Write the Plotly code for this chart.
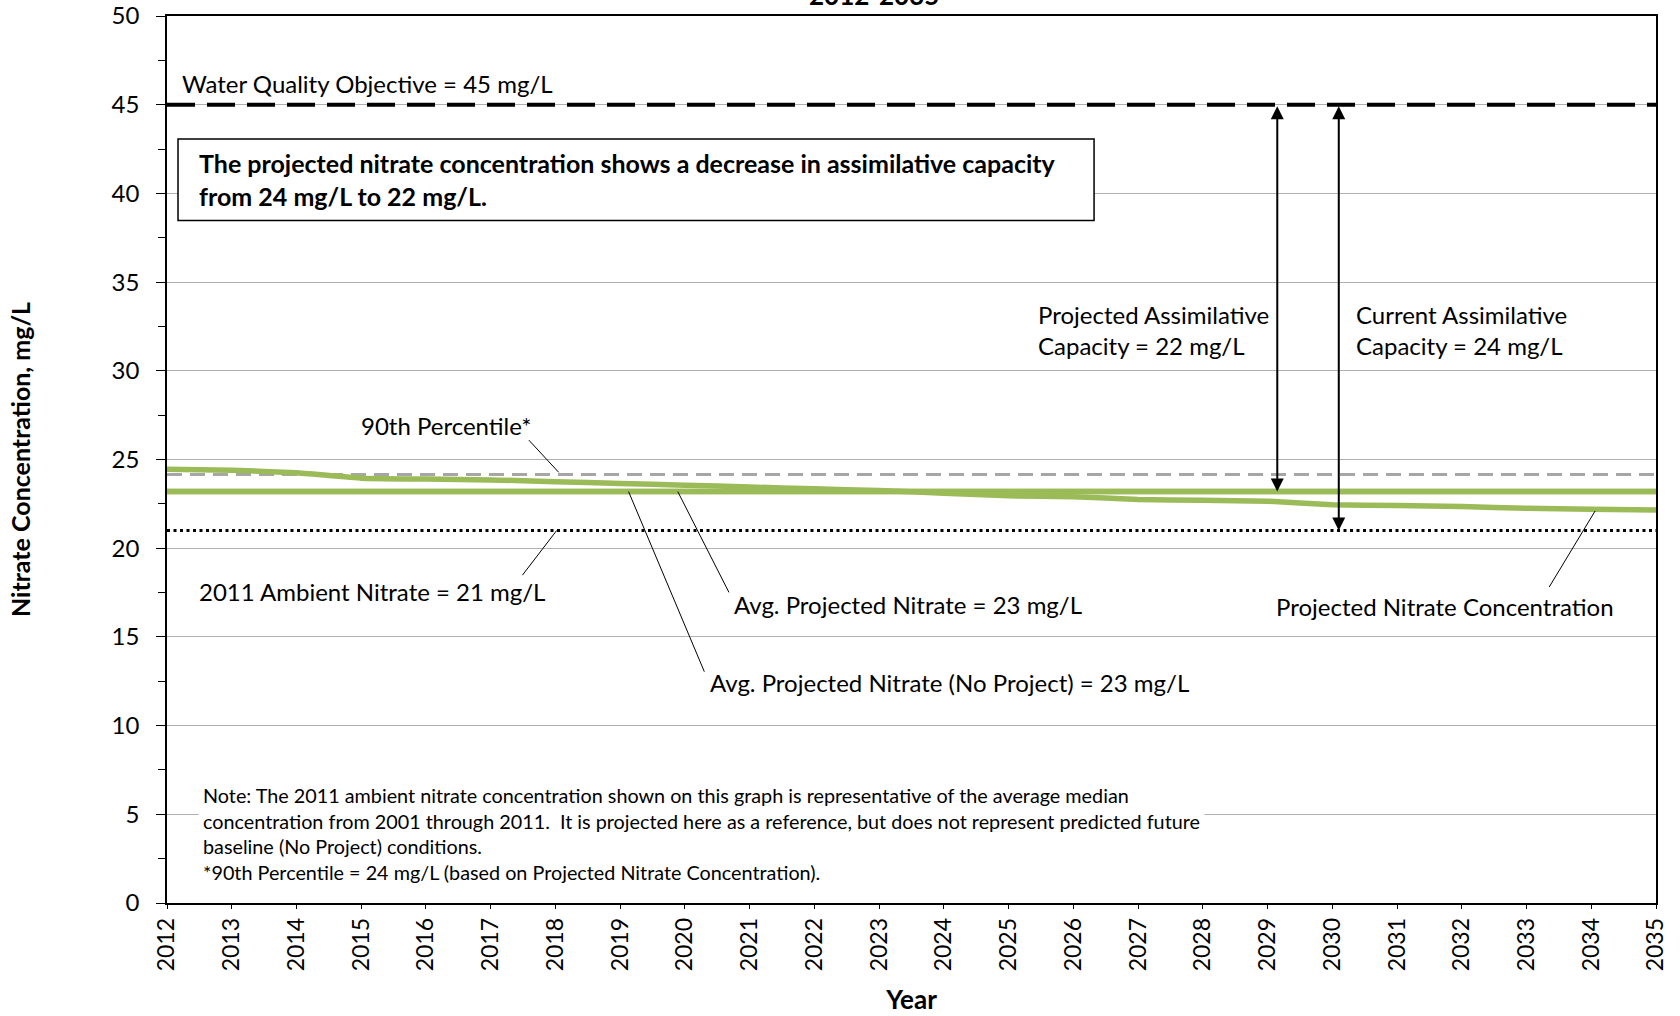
import plotly.graph_objects as go

years = list(range(2012, 2036))
projected = [24.45, 24.4, 24.25, 23.95, 23.9, 23.85, 23.75, 23.65, 23.55, 23.45, 23.35, 23.25,
             23.1, 22.95, 22.9, 22.75, 22.7, 22.65, 22.45, 22.4, 22.35, 22.25, 22.2, 22.15]
avg_projected = [23.2] * len(years)
avg_no_project = [23.2] * len(years)
p90 = [24.15] * len(years)
ambient = [21.0] * len(years)
wqo = [45.0] * len(years)

FONT = "Lato"
GREEN = "#9BBB59"

fig = go.Figure()
fig.add_trace(go.Scatter(x=years, y=wqo, mode="lines",
                         line=dict(color="black", width=4, dash="28px,12px")))
fig.add_trace(go.Scatter(x=years, y=ambient, mode="lines",
                         line=dict(color="black", width=3, dash="3px,3.5px")))
fig.add_trace(go.Scatter(x=years, y=p90, mode="lines",
                         line=dict(color="#A6A6A6", width=3, dash="15px,8px")))
fig.add_trace(go.Scatter(x=years, y=avg_no_project, mode="lines",
                         line=dict(color=GREEN, width=5.5)))
fig.add_trace(go.Scatter(x=years, y=avg_projected, mode="lines",
                         line=dict(color=GREEN, width=5.5)))
fig.add_trace(go.Scatter(x=years, y=projected, mode="lines",
                         line=dict(color=GREEN, width=5.5, shape="spline", smoothing=0.3)))

def label(x, y, text, xanchor="left", size=24):
    fig.add_annotation(x=x, y=y, text=text, showarrow=False, xanchor=xanchor,
                       yanchor="middle", align="left",
                       font=dict(family=FONT, size=size, color="black"))

def leader(x0, y0, x1, y1):
    fig.add_shape(type="line", x0=x0, y0=y0, x1=x1, y1=y1, xref="x", yref="y",
                  line=dict(color="black", width=1))

label(2012.2, 46.2, "Water Quality Objective = 45 mg/L")

fig.add_shape(type="rect", x0=2012.17, x1=2026.32, y0=38.47, y1=43.06, xref="x", yref="y",
              line=dict(color="black", width=1.5), fillcolor="white", layer="above")
fig.add_annotation(x=2012.46, y=40.76, xanchor="left", yanchor="middle", align="left",
                   showarrow=False,
                   text="<b>The projected nitrate concentration shows a decrease in assimilative capacity<br>from 24 mg/L to 22 mg/L.</b>",
                   font=dict(family=FONT, size=25, color="black"))

label(2025.43, 32.3, "Projected Assimilative<br>Capacity = 22 mg/L")
label(2030.34, 32.3, "Current Assimilative<br>Capacity = 24 mg/L")
label(2016.32, 26.93, "90th Percentile*", xanchor="center")
label(2012.46, 17.57, "2011 Ambient Nitrate = 21 mg/L")
label(2020.73, 16.85, "Avg. Projected Nitrate = 23 mg/L")
label(2020.35, 12.44, "Avg. Projected Nitrate (No Project) = 23 mg/L")
label(2029.1, 16.73, "Projected Nitrate Concentration")

leader(2017.59, 26.09, 2018.05, 24.28)
leader(2017.49, 18.48, 2018.02, 21.0)
leader(2020.68, 17.51, 2019.89, 23.19)
leader(2020.3, 13.04, 2019.13, 23.19)
leader(2033.35, 17.81, 2034.06, 22.1)

# assimilative capacity arrows
for xa, ylow in [(2029.15, avg_projected[0]), (2030.1, ambient[0])]:
    fig.add_annotation(x=xa, y=ylow, ax=xa, ay=wqo[0], xref="x", yref="y",
                       axref="x", ayref="y", text="", showarrow=True,
                       arrowhead=2, arrowsize=1.3, arrowwidth=2, arrowside="end+start",
                       startarrowhead=2, startarrowsize=1.3, arrowcolor="black")

note = ("Note: The 2011 ambient nitrate concentration shown on this graph is representative of the average median<br>"
        "concentration from 2001 through 2011.  It is projected here as a reference, but does not represent predicted future<br>"
        "baseline (No Project) conditions.<br>"
        "*90th Percentile = 24 mg/L (based on Projected Nitrate Concentration).")
fig.add_annotation(x=2012.48, y=3.93, text=note, showarrow=False, xanchor="left", yanchor="middle",
                   align="left", bgcolor="white", borderpad=4,
                   font=dict(family=FONT, size=19.8, color="black"))

fig.add_annotation(xref="paper", yref="paper", x=0.475, y=1.0034, xanchor="center",
                   yanchor="bottom", text="<b>2012-2035</b>", showarrow=False,
                   font=dict(family=FONT, size=26, color="black"))

fig.update_layout(
    width=1680, height=1016,
    margin=dict(l=167, r=24, t=16, b=113),
    paper_bgcolor="white", plot_bgcolor="white",
    showlegend=False,
    font=dict(family=FONT, color="black"),
)
fig.update_xaxes(range=[2012, 2035], tickmode="array", tickvals=years,
                 ticktext=[str(y) for y in years], tickangle=-90, automargin=False,
                 tickfont=dict(family=FONT, size=23), ticks="outside", ticklen=4,
                 tickcolor="black", showline=True, linecolor="black", linewidth=1.5,
                 mirror=True, showgrid=False, zeroline=False, ticklabelstandoff=0,
                 title=dict(text="<b>Year</b>", font=dict(family=FONT, size=26), standoff=20))
fig.update_yaxes(range=[0, 50], tickmode="array", tickvals=list(range(0, 51, 5)),
                 tickfont=dict(family=FONT, size=24), ticks="outside", ticklen=9,
                 tickcolor="black", showline=True, linecolor="black", linewidth=1.5,
                 mirror=True, showgrid=True, gridcolor="#B0B0B0", gridwidth=1,
                 zeroline=False, automargin=False, ticklabelstandoff=12,
                 minor=dict(tickvals=[2.5 + 5 * i for i in range(10)], ticks="outside",
                            ticklen=7, tickcolor="black", showgrid=False),
                 title=dict(text="<b>Nitrate Concentration, mg/L</b>",
                            font=dict(family=FONT, size=25), standoff=74))

fig.write_html("out.html", config={"displayModeBar": False})

with open("out.html", "r", encoding="utf-8") as f:
    html = f.read()
html = html.replace("<head>", "<head><style>html,body{margin:0;padding:0;overflow:hidden;}</style>", 1)
with open("out.html", "w", encoding="utf-8") as f:
    f.write(html)
